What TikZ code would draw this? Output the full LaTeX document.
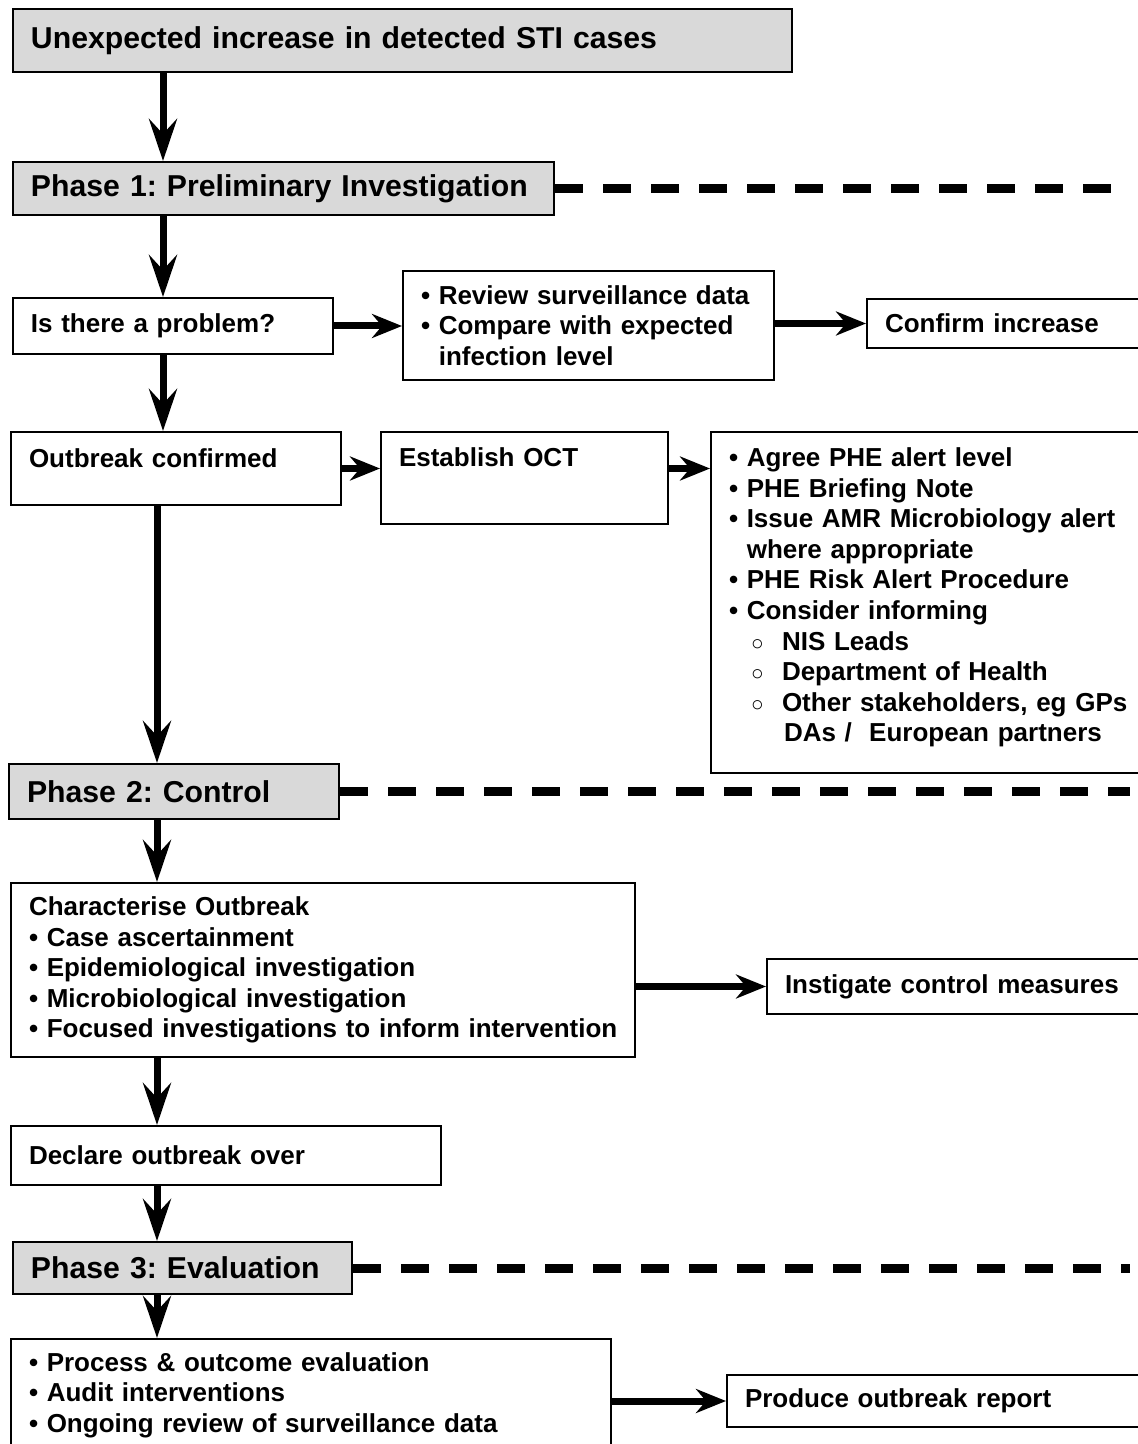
\documentclass[tikz,border=0pt]{standalone}
\usepackage{fontspec}
\setmainfont{Liberation Sans}
\usetikzlibrary{arrows.meta}
\definecolor{hdrgray}{HTML}{D9D9D9}
\newcommand{\circitem}[1]{\hspace*{11pt}\makebox[15.5pt][l]{\fontsize{10.5}{10}\selectfont ○}#1}
\newcommand{\bul}{•\ }

\begin{document}
\frenchspacing
\begin{tikzpicture}[
  x=0.5pt, y=-0.5pt,
  font=\fontsize{13}{15.3}\selectfont\bfseries,
  stage/.style={draw, line width=1pt, anchor=north west, inner xsep=9pt,
                inner ysep=0pt, align=left},
  hdr/.style={stage, fill=hdrgray, font=\fontsize{15.1}{18}\selectfont\bfseries},
  vflow/.style={-{Stealth[length=21pt,width=14pt,inset=7.5pt]}, line width=3.5pt},
  hflow/.style={-{Stealth[length=15pt,width=12pt,inset=5pt]}, line width=3.5pt},
  phaseline/.style={line width=4.5pt, dash pattern=on 14pt off 10pt},
]
\clip (0,0) rectangle (1138,1444);

% ---------- spines ----------
\coordinate (upper) at (163,0);
\coordinate (lower) at (157,0);
\coordinate (rim) at (1130,0);

% ---------- trigger + phase 1 ----------
\node[hdr, text width=371.5pt, minimum height=31.5pt] (alarm) at (12,8)
  {Unexpected increase in detected STI cases};
\node[hdr, text width=252.5pt, minimum height=26.5pt] (ph1) at (12,161)
  {\mbox{Phase 1: Preliminary Investigation}};
\node[stage, text width=142pt, minimum height=28pt] (problem) at (12,297)
  {Is there a problem?};
\node[stage, text width=167.5pt, minimum height=54.5pt] (review) at (402,270)
  {\bul Review surveillance data\\
   \bul Compare with expected\\
   \hphantom{\bul}infection level};
\node[stage, text width=132pt, minimum height=24.5pt] (confirm) at (866,298)
  {Confirm increase};
\node[stage, text width=147pt, text height=17.75pt, text depth=18.75pt] (outbreak) at (10,431)
  {Outbreak confirmed};
\node[stage, text width=125.5pt, text height=17.25pt, text depth=28.75pt] (oct) at (380,431)
  {Establish OCT};
\node[stage, text width=202pt, text height=17.25pt, text depth=153.25pt] (alerts) at (710,431)
  {\bul Agree PHE alert level\\
   \bul PHE Briefing Note\\
   \bul Issue AMR Microbiology alert\\
   \hphantom{\bul}where appropriate\\
   \bul PHE Risk Alert Procedure\\
   \bul Consider informing\\
   \circitem{NIS Leads}\\
   \circitem{Department of Health}\\
   \circitem{Other stakeholders, eg GPs}\\
   \hspace*{27.5pt}DAs /\ \ European partners};

% ---------- phase 2 ----------
\node[hdr, text width=147pt, minimum height=27.5pt] (ph2) at (8,763)
  {Phase 2: Control};
\node[stage, text width=294pt, minimum height=87pt] (character) at (10,882)
  {Characterise Outbreak\\
   \bul Case ascertainment\\
   \bul Epidemiological investigation\\
   \bul Microbiological investigation\\
   \mbox{\bul Focused investigations to inform intervention}};
\node[stage, text width=177pt, minimum height=27.5pt] (measures) at (766,958)
  {Instigate control measures};
\node[stage, text width=197pt, minimum height=29.5pt] (over) at (10,1125)
  {Declare outbreak over};

% ---------- phase 3 ----------
\node[hdr, text width=151.5pt, minimum height=26pt] (ph3) at (12,1241)
  {Phase 3: Evaluation};
\node[stage, text width=282pt, minimum height=56pt] (evaluate) at (10,1338)
  {\bul Process \& outcome evaluation\\
   \bul Audit interventions\\
   \bul Ongoing review of surveillance data};
\node[stage, text width=192pt, minimum height=26pt] (report) at (726,1374)
  {Produce outbreak report};

% ---------- phase separators ----------
\draw[phaseline] (ph1.east) -- (ph1.east -| rim);
\draw[phaseline] (ph2.east) -- (ph2.east -| rim);
\draw[phaseline] (ph3.east) -- (ph3.east -| rim);

% ---------- arrows ----------
\draw[vflow] (alarm.south -| upper) -- (ph1.north -| upper);
\draw[vflow] (ph1.south -| upper) -- (problem.north -| upper);
\draw[vflow] (problem.south -| upper) -- (outbreak.north -| upper);
\draw[vflow] (outbreak.south -| lower) -- (ph2.north -| lower);
\draw[vflow] (ph2.south -| lower) -- (character.north -| lower);
\draw[vflow] (character.south -| lower) -- (over.north -| lower);
\draw[vflow] (over.south -| lower) -- (ph3.north -| lower);
\draw[vflow] (ph3.south -| lower) -- (evaluate.north -| lower);

\draw[hflow] (problem.east) -- (problem.east -| review.west);
\draw[hflow] (confirm.west -| review.east) -- (confirm.west);
\draw[hflow] (outbreak.east) -- (outbreak.east -| oct.west);
\draw[hflow] (outbreak.east -| oct.east) -- (outbreak.east -| alerts.west);
\draw[hflow] (measures.west -| character.east) -- (measures.west);
\draw[hflow] (report.west -| evaluate.east) -- (report.west);

\end{tikzpicture}
\end{document}
